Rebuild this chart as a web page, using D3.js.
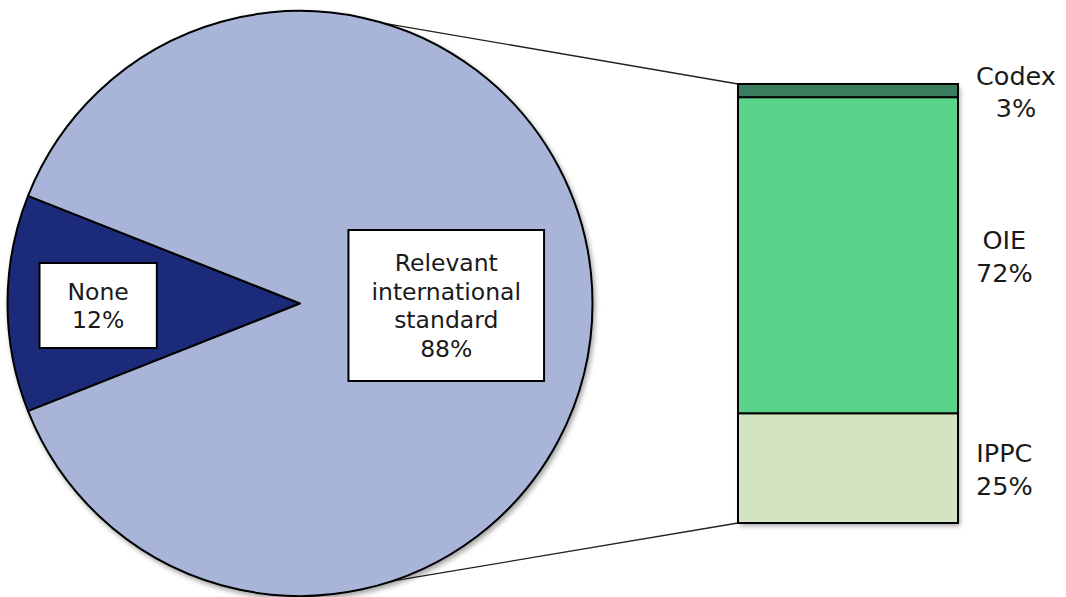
<!DOCTYPE html>
<html>
<head>
<meta charset="utf-8">
<script src="https://cdn.jsdelivr.net/npm/d3@7"></script>
<style>
  html, body { margin: 0; padding: 0; background: #ffffff; }
  svg { display: block; }
  text { font-family: "DejaVu Sans", Verdana, sans-serif; fill: #1a1a1a; }
</style>
</head>
<body>
<svg id="chart" width="1066" height="597"></svg>
<script>
// ---- data ----
const pieCategories = ["None", "Relevant international standard"];
const pieLabelLines = [["None"], ["Relevant", "international", "standard"]];
const pieValues = [12, 88];
const pieColors = ["#1f2a7a", "#a9b4d9"];

const barCategories = ["IPPC", "OIE", "Codex"];
const barValues = [25, 72, 3];
const barColors = ["#d4e4c2", "#5bd38b", "#3b7c5f"];

// ---- layout ----
const W = 1066, H = 597;
const cx = 300, cy = 303.5, R = 292.5;
const barX0 = 738, barX1 = 958, barTop = 84, barBottom = 523;

const svg = d3.select("#chart");
const defs = svg.append("defs");
const f = defs.append("filter").attr("id", "shadow")
  .attr("x", "-10%").attr("y", "-10%").attr("width", "120%").attr("height", "120%");
f.append("feDropShadow").attr("dx", 2).attr("dy", 3).attr("stdDeviation", 2.5)
  .attr("flood-color", "#000").attr("flood-opacity", 0.35);

// ---- pie ----
const noneShare = pieValues[0] / d3.sum(pieValues);
const start = 1.5 * Math.PI - noneShare * Math.PI; // "None" centred on the left
const pie = d3.pie().sort(null).value(d => d)
  .startAngle(start).endAngle(start + 2 * Math.PI);
const arcs = pie(pieValues);
const arc = d3.arc().innerRadius(0).outerRadius(R);

// connector lines (drawn behind pie)
const yBar = d3.scaleLinear().domain([0, 100]).range([barBottom, barTop]);
const topAng = 16.5 * Math.PI / 180;
const botAng = (180 - 18.3) * Math.PI / 180;
const pt = a => [cx + R * Math.sin(a), cy - R * Math.cos(a)];
const conn = [
  [pt(topAng), [barX0, yBar(100)]],
  [pt(botAng), [barX0, yBar(0)]]
];
svg.append("g").selectAll("line").data(conn).join("line")
  .attr("x1", d => d[0][0]).attr("y1", d => d[0][1])
  .attr("x2", d => d[1][0]).attr("y2", d => d[1][1])
  .attr("stroke", "#222").attr("stroke-width", 1.3);

const pg = svg.append("g").attr("transform", `translate(${cx},${cy})`);
pg.append("g").attr("filter", "url(#shadow)")
  .selectAll("path").data(arcs).join("path")
  .attr("d", arc)
  .attr("fill", (d, i) => pieColors[i])
  .attr("stroke", "#000").attr("stroke-width", 2).attr("stroke-linejoin", "round");

// pie labels
const labelRadius = [0.69, 0.5];
const pieFont = 23.5, pieLH = 28.5;
arcs.forEach((d, i) => {
  const lines = pieLabelLines[i].concat([pieValues[i] + "%"]);
  const mid = (d.startAngle + d.endAngle) / 2;
  const lx = labelRadius[i] * R * Math.sin(mid);
  const ly = -labelRadius[i] * R * Math.cos(mid) + 2;
  const g = pg.append("g").attr("transform", `translate(${lx},${ly})`);
  const rect = g.append("rect");
  const t = g.append("text").attr("text-anchor", "middle")
    .attr("font-size", pieFont);
  lines.forEach((s, k) => {
    t.append("tspan").attr("x", 0)
      .attr("y", (k - (lines.length - 1) / 2) * pieLH)
      .attr("dy", "0.36em").text(s);
  });
  let maxW = 0;
  t.selectAll("tspan").each(function () { maxW = Math.max(maxW, this.getComputedTextLength()); });
  const padX = i === 0 ? 28 : 23, padY = i === 0 ? 14 : 18.5;
  const bw = maxW + 2 * padX, bh = lines.length * pieLH + 2 * padY;
  rect.attr("x", -bw / 2).attr("y", -bh / 2).attr("width", bw).attr("height", bh)
    .attr("fill", "#fff").attr("stroke", "#000").attr("stroke-width", 2);
});

// ---- stacked bar ----
const stack = [];
let acc = 0;
barValues.forEach((v, i) => { stack.push({ cat: barCategories[i], v, y0: acc, y1: acc + v, c: barColors[i] }); acc += v; });

const bg = svg.append("g");
bg.append("rect")
  .attr("x", barX0).attr("y", yBar(100))
  .attr("width", barX1 - barX0).attr("height", yBar(0) - yBar(100))
  .attr("fill", "#fff").attr("filter", "url(#shadow)");
bg.selectAll("rect.seg").data(stack).join("rect").attr("class", "seg")
  .attr("x", barX0).attr("y", d => yBar(d.y1))
  .attr("width", barX1 - barX0).attr("height", d => yBar(d.y0) - yBar(d.y1))
  .attr("fill", d => d.c).attr("stroke", "#000").attr("stroke-width", 2);

// bar labels
const barFont = 25.5, barLH = 32.5, labelLeft = 976;
stack.forEach(d => {
  const lines = [d.cat, d.v + "%"];
  const yc = (yBar(d.y0) + yBar(d.y1)) / 2 + 1;
  const t = svg.append("text").attr("text-anchor", "middle").attr("font-size", barFont);
  lines.forEach((s, k) => {
    t.append("tspan").attr("y", yc + (k - 0.5) * barLH).attr("dy", "0.36em").text(s);
  });
  let maxW = 0;
  t.selectAll("tspan").each(function () { maxW = Math.max(maxW, this.getComputedTextLength()); });
  t.selectAll("tspan").attr("x", labelLeft + maxW / 2);
});
</script>
</body>
</html>
